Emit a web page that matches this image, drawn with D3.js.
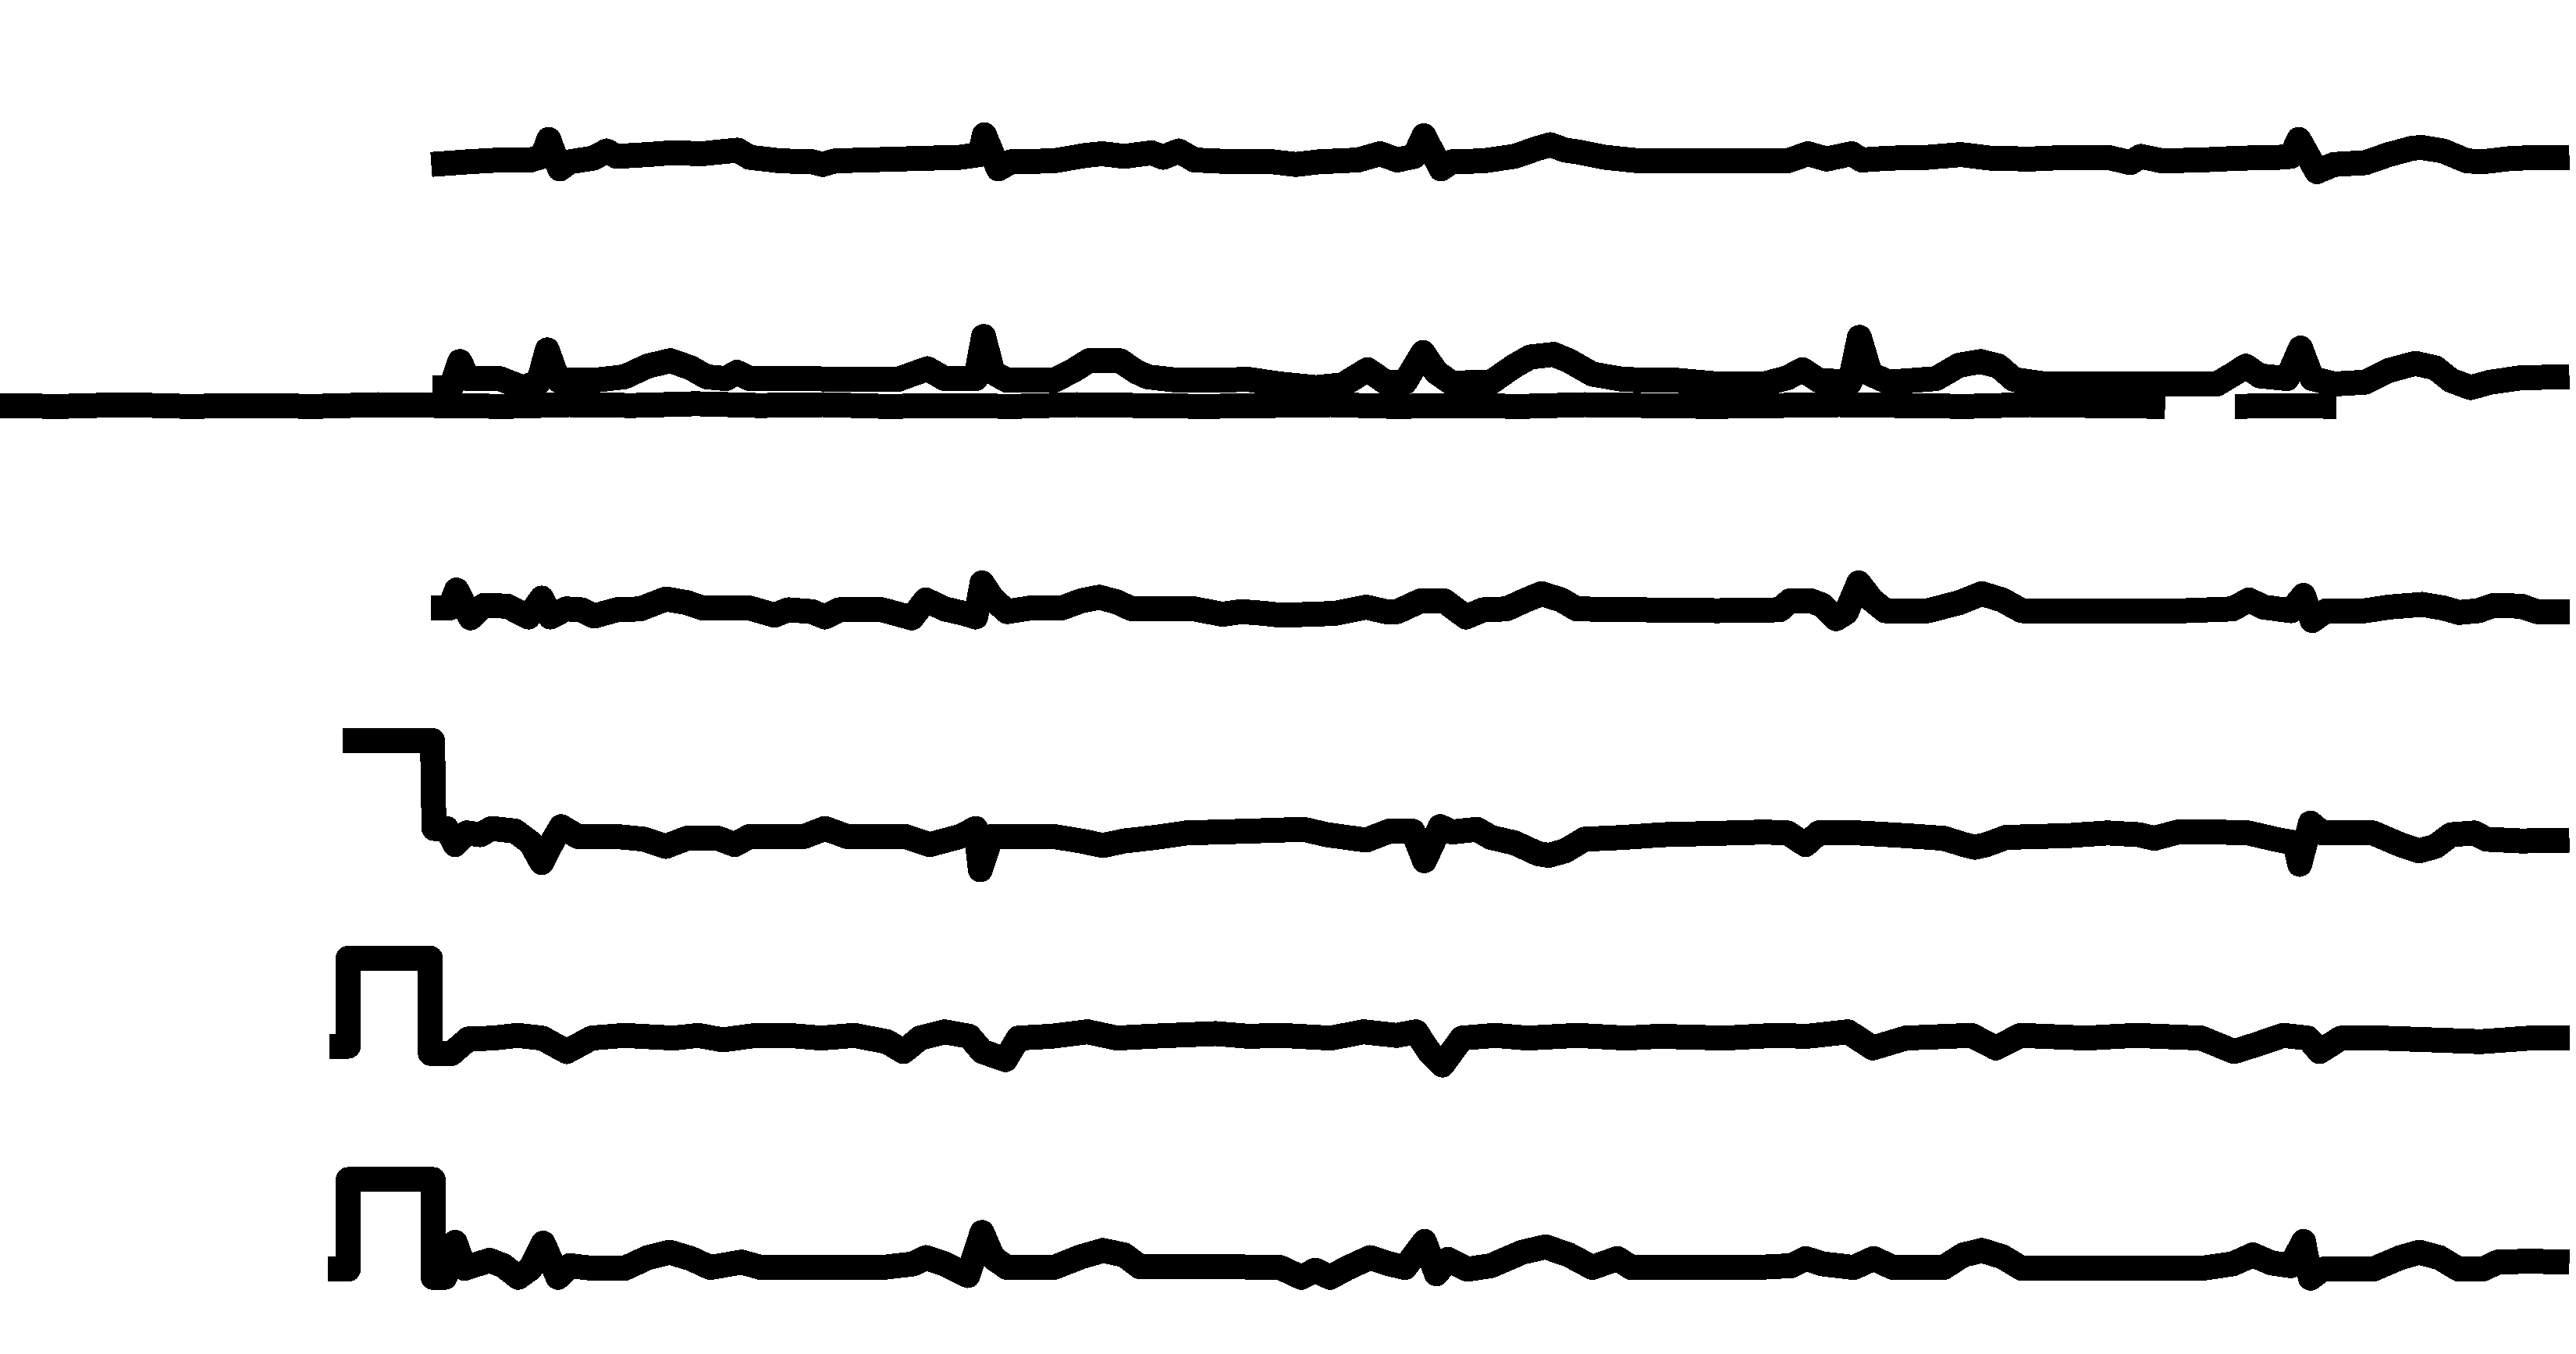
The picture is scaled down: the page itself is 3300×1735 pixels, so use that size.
<!DOCTYPE html>
<html>
<head>
<meta charset="utf-8">
<script src="https://cdn.jsdelivr.net/npm/d3@7"></script>
<style>
  html, body { margin: 0; padding: 0; background: #fff; }
  svg { display: block; }
</style>
</head>
<body>
<div id="chart"></div>
<script>
// rows, top to bottom
const rows = ["row1", "row2", "row3", "row4", "row5", "row6"];

// [time (s), amplitude (mV)]
const trace1 = [[-0.05,-0.05],[0.125,-0.02],[0.273,0],[0.42,0],[0.476,0.04],[0.505,0.23],[0.557,-0.10],[0.605,-0.02],[0.715,0.02],[0.778,0.10],[0.826,0.04],[0.973,0.06],[1.084,0.08],[1.232,0.07],[1.398,0.11],[1.453,0.03],[1.60,-0.01],[1.748,-0.02],[1.799,-0.05],[1.858,-0.01],[2.153,0.01],[2.448,0.03],[2.541,0.06],[2.563,0.28],[2.629,-0.10],[2.688,-0.02],[2.891,-0.01],[3.038,0.05],[3.119,0.07],[3.223,0.04],[3.352,0.08],[3.407,0.03],[3.481,0.10],[3.555,0],[3.739,-0.02],[3.923,-0.02],[4.034,-0.05],[4.145,-0.02],[4.329,0],[4.432,0.07],[4.513,0],[4.594,0.04],[4.639,0.27],[4.72,-0.10],[4.771,-0.02],[4.919,-0.01],[5.066,0.04],[5.177,0.13],[5.236,0.17],[5.306,0.11],[5.365,0.09],[5.494,0.03],[5.656,-0.01],[6.025,-0.01],[6.357,-0.01],[6.453,0.07],[6.541,0.01],[6.659,0.07],[6.707,0],[6.836,0.02],[7.021,0.03],[7.176,0.06],[7.316,0.02],[7.5,0.01],[7.684,0.03],[7.869,0.03],[7.976,-0.03],[8.024,0.04],[8.127,-0.01],[8.311,0],[8.496,0.02],[8.68,0.03],[8.735,0.04],[8.772,0.23],[8.857,-0.13],[8.938,-0.05],[9.086,-0.03],[9.196,0.06],[9.307,0.13],[9.351,0.14],[9.454,0.10],[9.565,-0.01],[9.639,-0.02],[9.786,0.02],[10.05,0.03]];

const trace2 = [[-0.045,-0.07],[0.044,-0.07],[0.085,0.22],[0.125,0.03],[0.273,0.03],[0.383,-0.07],[0.457,-0.01],[0.498,0.35],[0.549,0.01],[0.715,0.01],[0.863,0.05],[0.973,0.17],[1.08,0.23],[1.176,0.15],[1.25,0.05],[1.342,0.03],[1.394,0.10],[1.453,0.03],[1.711,0.03],[1.969,0.02],[2.153,0.02],[2.294,0.14],[2.375,0.03],[2.522,0.03],[2.559,0.50],[2.603,0.10],[2.67,0.01],[2.891,0.01],[2.983,0.12],[3.057,0.23],[3.204,0.23],[3.278,0.11],[3.333,0.05],[3.481,0.01],[3.813,0.02],[3.96,-0.03],[4.13,-0.07],[4.255,-0.04],[4.373,0.13],[4.458,-0.01],[4.55,-0.01],[4.635,0.32],[4.698,0.10],[4.771,-0.02],[4.956,-0.01],[5.066,0.17],[5.14,0.27],[5.251,0.30],[5.324,0.23],[5.435,0.08],[5.583,0.02],[5.841,0.01],[6.025,-0.03],[6.246,-0.03],[6.357,0.04],[6.427,0.13],[6.504,0.01],[6.652,-0.01],[6.696,0.49],[6.748,0.08],[6.836,-0.01],[7.058,0.03],[7.168,0.18],[7.268,0.22],[7.353,0.17],[7.426,0.02],[7.574,-0.03],[7.869,-0.03],[8.164,-0.03],[8.385,-0.03],[8.477,0.10],[8.521,0.17],[8.588,0.06],[8.717,0.03],[8.78,0.37],[8.835,0.03],[8.938,-0.03],[9.086,-0.01],[9.196,0.12],[9.322,0.20],[9.417,0.15],[9.491,0.01],[9.583,-0.07],[9.676,-0.01],[9.823,0.04],[10.05,0.05]];

// second, flatter strip sharing row 2 (null = gap)
const trace2Strip = [[-2.14,-0.27],[-1.8,-0.28],[-1.5,-0.26],[-1.2,-0.28],[-0.9,-0.27],[-0.6,-0.28],[-0.3,-0.26],[0,-0.27],[0.3,-0.28],[0.6,-0.26],[0.9,-0.27],[1.2,-0.25],[1.5,-0.27],[1.8,-0.26],[2.1,-0.28],[2.4,-0.27],[2.7,-0.28],[3.0,-0.26],[3.3,-0.27],[3.6,-0.28],[3.9,-0.27],[4.2,-0.26],[4.5,-0.28],[4.8,-0.27],[5.1,-0.28],[5.4,-0.26],[5.7,-0.27],[6.0,-0.28],[6.3,-0.27],[6.6,-0.26],[6.9,-0.27],[7.2,-0.28],[7.5,-0.26],[7.8,-0.27],[8.14,-0.28],null,[8.47,-0.28],[8.7,-0.27],[8.95,-0.28]];

const trace3 = [[-0.05,-0.06],[0.037,-0.06],[0.07,0.14],[0.136,-0.17],[0.199,-0.03],[0.31,-0.04],[0.409,-0.16],[0.472,0.05],[0.513,-0.16],[0.586,-0.07],[0.66,-0.08],[0.719,-0.15],[0.826,-0.08],[0.937,-0.07],[1.058,0.04],[1.158,0],[1.232,-0.06],[1.453,-0.06],[1.571,-0.14],[1.637,-0.08],[1.748,-0.10],[1.81,-0.16],[1.877,-0.08],[2.08,-0.08],[2.22,-0.17],[2.286,0.03],[2.375,-0.07],[2.467,-0.12],[2.522,-0.16],[2.552,0.22],[2.603,0.04],[2.67,-0.10],[2.78,-0.06],[2.928,-0.06],[3.02,0.02],[3.105,0.06],[3.186,0.01],[3.26,-0.07],[3.555,-0.07],[3.687,-0.13],[3.776,-0.10],[3.886,-0.12],[3.96,-0.14],[4.108,-0.13],[4.218,-0.12],[4.366,-0.05],[4.458,-0.10],[4.513,-0.10],[4.624,0.02],[4.735,0.02],[4.838,-0.16],[4.919,-0.08],[5.029,-0.07],[5.122,0.03],[5.195,0.10],[5.288,0.03],[5.361,-0.07],[5.656,-0.08],[6.025,-0.09],[6.32,-0.08],[6.368,0.02],[6.468,0.02],[6.523,-0.03],[6.586,-0.18],[6.634,-0.11],[6.693,0.22],[6.755,0.03],[6.818,-0.09],[7.021,-0.09],[7.168,0],[7.275,0.10],[7.371,0.03],[7.463,-0.09],[7.869,-0.09],[8.237,-0.09],[8.459,-0.07],[8.536,0.03],[8.606,-0.05],[8.735,-0.09],[8.794,0.08],[8.835,-0.20],[8.901,-0.09],[9.086,-0.09],[9.196,-0.05],[9.355,-0.02],[9.454,-0.06],[9.528,-0.11],[9.62,-0.09],[9.694,-0.03],[9.823,-0.04],[9.897,-0.10],[10.05,-0.10]];

const trace4 = [[-0.468,0.93],[-0.044,0.93],[-0.037,-0.05],[0.022,-0.05],[0.063,-0.23],[0.118,-0.10],[0.181,-0.12],[0.236,-0.05],[0.347,-0.08],[0.42,-0.21],[0.472,-0.43],[0.524,-0.19],[0.564,-0.03],[0.642,-0.14],[0.826,-0.14],[0.955,-0.17],[1.058,-0.25],[1.158,-0.16],[1.305,-0.16],[1.383,-0.23],[1.453,-0.14],[1.711,-0.14],[1.81,-0.05],[1.914,-0.14],[2.19,-0.14],[2.305,-0.23],[2.448,-0.14],[2.522,-0.05],[2.544,-0.51],[2.596,-0.14],[2.891,-0.14],[3.02,-0.19],[3.123,-0.24],[3.223,-0.19],[3.37,-0.15],[3.518,-0.10],[3.813,-0.08],[4.071,-0.06],[4.181,-0.12],[4.366,-0.18],[4.476,-0.08],[4.587,-0.08],[4.642,-0.41],[4.716,-0.03],[4.771,-0.09],[4.889,-0.06],[4.956,-0.15],[5.066,-0.21],[5.177,-0.33],[5.229,-0.35],[5.306,-0.30],[5.398,-0.17],[5.583,-0.15],[5.767,-0.12],[6.099,-0.10],[6.246,-0.09],[6.357,-0.10],[6.442,-0.23],[6.504,-0.10],[6.689,-0.10],[6.91,-0.13],[7.094,-0.16],[7.205,-0.24],[7.242,-0.26],[7.297,-0.23],[7.389,-0.15],[7.684,-0.13],[7.869,-0.10],[8.016,-0.12],[8.09,-0.16],[8.201,-0.09],[8.385,-0.09],[8.532,-0.10],[8.68,-0.18],[8.754,-0.21],[8.776,-0.45],[8.827,0.01],[8.883,-0.10],[9.122,-0.10],[9.251,-0.23],[9.34,-0.30],[9.417,-0.25],[9.491,-0.12],[9.602,-0.10],[9.657,-0.17],[9.823,-0.19],[10.05,-0.18]];

const trace5 = [[-0.53,-0.01],[-0.442,-0.01],[-0.442,0.97],[-0.054,0.97],[-0.054,-0.09],[0.047,-0.09],[0.125,0.07],[0.241,0.08],[0.357,0.11],[0.474,0.08],[0.59,-0.07],[0.707,0.08],[0.862,0.11],[1.095,0.08],[1.211,0.11],[1.327,0.06],[1.483,0.11],[1.638,0.11],[1.793,0.08],[1.948,0.11],[2.103,0.04],[2.181,-0.07],[2.259,0.08],[2.375,0.15],[2.491,0.10],[2.553,-0.07],[2.662,-0.16],[2.724,0.08],[2.879,0.10],[3.05,0.15],[3.19,0.08],[3.345,0.10],[3.655,0.13],[3.811,0.10],[3.966,0.11],[4.199,0.08],[4.354,0.15],[4.509,0.11],[4.602,0.15],[4.664,-0.07],[4.726,-0.22],[4.819,0.08],[4.975,0.11],[5.13,0.08],[5.363,0.11],[5.595,0.08],[5.75,0.10],[6.061,0.08],[6.294,0.11],[6.449,0.10],[6.643,0.15],[6.759,-0.03],[6.915,0.08],[7.225,0.11],[7.341,-0.03],[7.458,0.11],[7.768,0.08],[8.001,0.11],[8.311,0.08],[8.466,-0.07],[8.56,0],[8.699,0.11],[8.815,0.08],[8.87,-0.07],[8.971,0.08],[9.165,0.08],[9.398,0.06],[9.63,0.04],[9.863,0.08],[10.05,0.08]];

const trace6 = [[-0.54,-0.03],[-0.442,-0.03],[-0.442,0.97],[-0.041,0.97],[-0.041,-0.12],[0.015,-0.12],[0.063,0.27],[0.107,-0.02],[0.225,0.07],[0.291,0.01],[0.361,-0.12],[0.42,-0.02],[0.479,0.26],[0.549,-0.12],[0.605,0.01],[0.715,-0.02],[0.863,-0.02],[0.973,0.10],[1.077,0.16],[1.176,0.09],[1.268,-0.01],[1.416,0.05],[1.508,-0.01],[1.785,-0.01],[2.08,-0.01],[2.227,0.03],[2.286,0.10],[2.375,0.03],[2.485,-0.10],[2.552,0.38],[2.603,0.10],[2.67,-0.01],[2.891,-0.01],[3.02,0.11],[3.123,0.18],[3.223,0.13],[3.296,0],[3.665,0],[3.96,-0.01],[4.06,-0.12],[4.126,-0.04],[4.196,-0.12],[4.274,-0.02],[4.384,0.10],[4.476,0.03],[4.55,-0.01],[4.642,0.28],[4.698,-0.08],[4.753,0.08],[4.845,-0.03],[4.956,0.01],[5.103,0.16],[5.214,0.22],[5.324,0.13],[5.435,-0.01],[5.553,0.09],[5.619,-0.01],[5.841,-0.01],[6.209,-0.01],[6.375,0.01],[6.442,0.09],[6.523,0.03],[6.67,-0.01],[6.763,0.09],[6.855,-0.01],[7.094,-0.01],[7.187,0.13],[7.275,0.18],[7.371,0.11],[7.463,-0.02],[7.869,-0.02],[8.311,-0.02],[8.459,0.03],[8.555,0.13],[8.643,0.04],[8.735,0.01],[8.794,0.28],[8.827,-0.13],[8.883,-0.03],[9.122,-0.03],[9.251,0.10],[9.34,0.16],[9.436,0.10],[9.528,-0.03],[9.639,-0.03],[9.712,0.05],[9.86,0.06],[10.05,0.05]];

const traces = [
    { row: "row1", values: trace1 },
    { row: "row2", values: trace2Strip },
    { row: "row2", values: trace2 },
    { row: "row3", values: trace3 },
    { row: "row4", values: trace4 },
    { row: "row5", values: trace5 },
    { row: "row6", values: trace6 }
];

const width = 3300;
const height = 1735;

const svg = d3.select("#chart").append("svg")
    .attr("width", width)
    .attr("height", height)
    .style("background", "#fff");

// 10 s of signal across the strip
const x = d3.scaleLinear()
    .domain([0, 10])
    .range([566, 3278]);

// row baselines
const rowY = d3.scalePoint()
    .domain(rows)
    .range([205, 1623]);

// 1 mV = 115 px
const amp = d3.scaleLinear()
    .domain([0, 1])
    .range([0, -115]);

const line = row => d3.line()
    .defined(d => d !== null)
    .x(d => x(d[0]))
    .y(d => rowY(row) + amp(d[1]));

// thick, hard-edged pen like the scanned strip
svg.append("g")
    .selectAll("path")
    .data(traces)
    .join("path")
    .attr("d", d => line(d.row)(d.values))
    .attr("fill", "none")
    .attr("stroke", "#000")
    .attr("stroke-width", 32)
    .attr("stroke-linejoin", "round")
    .attr("stroke-linecap", "butt")
    .attr("shape-rendering", "crispEdges");
</script>
</body>
</html>
